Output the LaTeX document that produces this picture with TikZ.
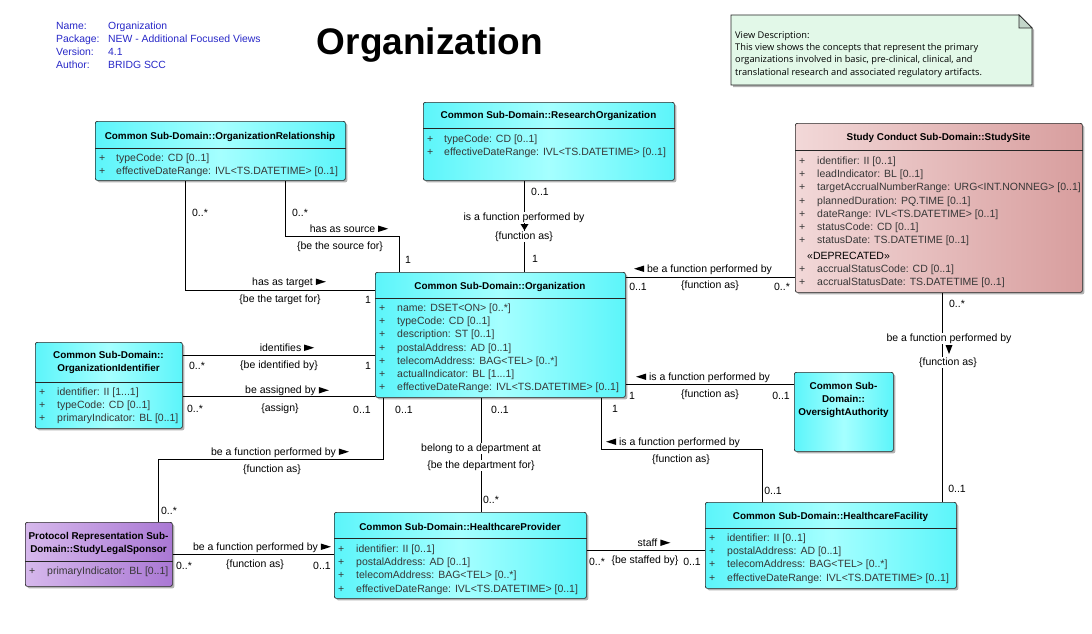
\documentclass[tikz,border=0pt]{standalone}
\usepackage{fontspec}
\setmainfont{Liberation Sans}
\newfontfamily\notefont{Open Sans}
\usetikzlibrary{shadows,calc}
\definecolor{cyanA}{RGB}{92,245,250}
\definecolor{cyanB}{RGB}{165,255,255}
\definecolor{pinkA}{RGB}{242,216,216}
\definecolor{pinkB}{RGB}{216,158,158}
\definecolor{purpA}{RGB}{214,184,236}
\definecolor{purpB}{RGB}{170,120,212}
\definecolor{notefill}{RGB}{226,248,232}
\definecolor{notefold}{RGB}{196,214,202}
\definecolor{infoblue}{RGB}{40,40,200}
\definecolor{attrgray}{RGB}{55,55,55}
\newcommand\lblfont{\fontsize{10.5}{13.1}\selectfont}
\newcommand\hdrfont{\bfseries\fontsize{9.9}{13}\selectfont}
\newcommand\Rtri{\tikz[baseline=0pt]\fill[black] (0pt,0pt)--(0pt,6.5pt)--(10pt,3.25pt)--cycle;}
\newcommand\Ltri{\tikz[baseline=0pt]\fill[black] (10pt,0pt)--(10pt,6.5pt)--(0pt,3.25pt)--cycle;}
\tikzset{
  cls/.style={draw=black!85, line width=0.7pt, rounded corners=2pt, anchor=north west,
    inner sep=0pt, drop shadow={shadow xshift=2pt, shadow yshift=-2pt, fill=black!30, opacity=1}},
  cyanbox/.style={cls, left color=cyanA, right color=cyanA, middle color=cyanB},
  pinkbox/.style={cls, left color=pinkA, right color=pinkB},
  purpbox/.style={cls, left color=purpA, right color=purpB},
  sepline/.style={draw=black!85, line width=0.7pt},
  hdr/.style={font=\hdrfont, inner sep=0pt, align=center},
  attrs/.style={font=\lblfont, text=attrgray, inner sep=0pt, anchor=base west},
  conn/.style={draw=black, line width=0.8pt},
  lbl/.style={font=\lblfont, fill=white, inner sep=0.5pt, text height=8pt, text depth=2pt},
  mult/.style={font=\lblfont, inner sep=0pt, text height=8pt, text depth=2pt},
}
\begin{document}
\begin{tikzpicture}[x=1pt,y=-1pt]
\useasboundingbox (0,0) rectangle (1092,634);
\fill[white] (0,0) rectangle (1092,634);

% title and info
\node[font=\bfseries\fontsize{37}{40}\selectfont, anchor=base, inner sep=0pt] (title) at (430,55) {Organization};
\node[anchor=base west, inner sep=0pt, text=infoblue, font=\fontsize{10.4}{12.9}\selectfont] (info) at (56,29.7)
  {\begin{tabular}[t]{@{}p{52pt}@{}l@{}}Name: & Organization\\ Package: & NEW - Additional Focused Views\\ Version: & 4.1\\ Author: & BRIDG SCC\end{tabular}};

% note
\fill[black!30] (733,17) -- (1021,17) -- (1034,30) -- (1034,87) -- (733,87) -- cycle;
\draw[fill=notefill, draw=black!85, line width=0.7pt] (731,15) -- (1019,15) -- (1032,28) -- (1032,85) -- (731,85) -- cycle;
\draw[fill=notefold, draw=black!85, line width=0.7pt] (1019,15) -- (1019,28) -- (1032,28) -- cycle;
\node[anchor=base west, inner sep=0pt, font=\notefont\fontsize{9.25}{12.3}\selectfont] (notetext) at (735,38.4)
  {\begin{tabular}[t]{@{}l@{}}View Description:\\ This view shows the concepts that represent the primary\\ organizations involved in basic, pre-clinical, clinical, and\\ translational research and associated regulatory artifacts.\end{tabular}};

% class boxes
\node[cyanbox, minimum width=250pt, minimum height=59pt] (orgrel) at (95,121) {};
\node[cyanbox, minimum width=251pt, minimum height=78pt] (research) at (423,102) {};
\node[pinkbox, minimum width=287pt, minimum height=169pt] (studysite) at (795,123) {};
\node[cyanbox, minimum width=250pt, minimum height=125pt] (org) at (375,272) {};
\node[cyanbox, minimum width=147pt, minimum height=86pt] (orgid) at (35,342) {};
\node[purpbox, minimum width=147pt, minimum height=64pt] (sls) at (25,522) {};
\node[cyanbox, minimum width=252pt, minimum height=86pt] (hp) at (334,512) {};
\node[cyanbox, minimum width=251pt, minimum height=86pt] (hf) at (705,502) {};
\node[cyanbox, minimum width=99pt, minimum height=79pt] (oversight) at (794,372) {};

% compartment lines
\draw[sepline] ($(orgrel.north west)+(0,27)$) -- ($(orgrel.north east)+(0,27)$);
\draw[sepline] ($(research.north west)+(0,26)$) -- ($(research.north east)+(0,26)$);
\draw[sepline] ($(studysite.north west)+(0,27)$) -- ($(studysite.north east)+(0,27)$);
\draw[sepline] ($(org.north west)+(0,26)$) -- ($(org.north east)+(0,26)$);
\draw[sepline] ($(orgid.north west)+(0,40)$) -- ($(orgid.north east)+(0,40)$);
\draw[sepline] ($(sls.north west)+(0,39)$) -- ($(sls.north east)+(0,39)$);
\draw[sepline] ($(hp.north west)+(0,26)$) -- ($(hp.north east)+(0,26)$);
\draw[sepline] ($(hf.north west)+(0,26)$) -- ($(hf.north east)+(0,26)$);

% headers
\node[hdr] (orgrelh) at (220,137) {Common Sub-Domain::OrganizationRelationship};
\node[hdr] (researchh) at (548.5,116) {Common Sub-Domain::ResearchOrganization};
\node[hdr] (studysiteh) at (938.5,138) {Study Conduct Sub-Domain::StudySite};
\node[hdr] (orgh) at (500,287) {Common Sub-Domain::Organization};
\node[hdr] (orgidh) at (108.5,362.5) {Common Sub-Domain::\\OrganizationIdentifier};
\node[hdr] (slsh) at (98.5,543.5) {Protocol Representation Sub-\\Domain::StudyLegalSponsor};
\node[hdr] (hph) at (460,527) {Common Sub-Domain::HealthcareProvider};
\node[hdr] (hfh) at (830.5,517) {Common Sub-Domain::HealthcareFacility};
\node[hdr] (oversighth) at (843.5,400) {Common Sub-\\Domain::\\OversightAuthority};

% attributes
\node[attrs] (orgrela) at (99,161.7) {\begin{tabular}[t]{@{}p{17pt}@{}l@{}}+ & typeCode: CD [0..1]\\ + & effectiveDateRange: IVL<TS.DATETIME> [0..1]\end{tabular}};
\node[attrs] (researcha) at (427,142.7) {\begin{tabular}[t]{@{}p{17pt}@{}l@{}}+ & typeCode: CD [0..1]\\ + & effectiveDateRange: IVL<TS.DATETIME> [0..1]\end{tabular}};
\node[attrs] (studysitea) at (799,164.7) {\begin{tabular}[t]{@{}p{18pt}@{}l@{}}+ & identifier: II [0..1]\\ + & leadIndicator: BL [0..1]\\ + & targetAccrualNumberRange: URG<INT.NONNEG> [0..1]\\ + & plannedDuration: PQ.TIME [0..1]\\ + & dateRange: IVL<TS.DATETIME> [0..1]\\ + & statusCode: CD [0..1]\\ + & statusDate: TS.DATETIME [0..1]\end{tabular}};
\node[attrs, text=black] (studysited) at (807,259.7) {«DEPRECATED»};
\node[attrs] (studysiteb) at (799,272) {\begin{tabular}[t]{@{}p{18pt}@{}l@{}}+ & accrualStatusCode: CD [0..1]\\ + & accrualStatusDate: TS.DATETIME [0..1]\end{tabular}};
\node[attrs] (orga) at (379,311.7) {\begin{tabular}[t]{@{}p{18pt}@{}l@{}}+ & name: DSET<ON> [0..*]\\ + & typeCode: CD [0..1]\\ + & description: ST [0..1]\\ + & postalAddress: AD [0..1]\\ + & telecomAddress: BAG<TEL> [0..*]\\ + & actualIndicator: BL [1...1]\\ + & effectiveDateRange: IVL<TS.DATETIME> [0..1]\end{tabular}};
\node[attrs] (orgida) at (39,395.7) {\begin{tabular}[t]{@{}p{18pt}@{}l@{}}+ & identifier: II [1...1]\\ + & typeCode: CD [0..1]\\ + & primaryIndicator: BL [0..1]\end{tabular}};
\node[attrs] (slsa) at (29,574.7) {\begin{tabular}[t]{@{}p{18pt}@{}l@{}}+ & primaryIndicator: BL [0..1]\end{tabular}};
\node[attrs] (hpa) at (338,552.7) {\begin{tabular}[t]{@{}p{18pt}@{}l@{}}+ & identifier: II [0..1]\\ + & postalAddress: AD [0..1]\\ + & telecomAddress: BAG<TEL> [0..*]\\ + & effectiveDateRange: IVL<TS.DATETIME> [0..1]\end{tabular}};
\node[attrs] (hfa) at (709,541.7) {\begin{tabular}[t]{@{}p{18pt}@{}l@{}}+ & identifier: II [0..1]\\ + & postalAddress: AD [0..1]\\ + & telecomAddress: BAG<TEL> [0..*]\\ + & effectiveDateRange: IVL<TS.DATETIME> [0..1]\end{tabular}};

% bend coordinates
\coordinate (c1) at (185,290);
\coordinate (c2a) at (285,236);
\coordinate (c2b) at (399,236);
\coordinate (c3) at (524,226);
\coordinate (c4) at (700,277);
\coordinate (c5) at (942,400);
\coordinate (c6) at (700,384);
\coordinate (c7a) at (601,449);
\coordinate (c7b) at (762,449);
\coordinate (c8) at (481,450);
\coordinate (c9) at (280,355);
\coordinate (c10) at (280,396);
\coordinate (c11a) at (383,459);
\coordinate (c11b) at (158,459);
\coordinate (c12) at (250,554);
\coordinate (c13) at (650,550);

% connectors
\draw[conn] (orgrel.south -| c1) |- (org.west |- c1);
\draw[conn] (orgrel.south -| c2a) |- (c2b) -- (org.north -| c2b);
\draw[conn] (research.south -| c3) -- (org.north -| c3);
\draw[conn] (org.east |- c4) -- (studysite.west |- c4);
\draw[conn] (studysite.south -| c5) -- (hf.north -| c5);
\draw[conn] (org.east |- c6) -- (oversight.west |- c6);
\draw[conn] (org.south -| c7a) |- (c7b) -- (hf.north -| c7b);
\draw[conn] (org.south -| c8) -- (hp.north -| c8);
\draw[conn] (orgid.east |- c9) -- (org.west |- c9);
\draw[conn] (orgid.east |- c10) -- (org.west |- c10);
\draw[conn] (org.south -| c11a) |- (c11b) -- (sls.north -| c11b);
\draw[conn] (sls.east |- c12) -- (hp.west |- c12);
\draw[conn] (hp.east |- c13) -- (hf.west |- c13);

% labels C1
\node[mult] (m1a) at (200,213) {0..*};
\node[lbl] (l1a) at (289,282) {has as target \Rtri};
\node[lbl] (l1b) at (280,299) {\{be the target for\}};
\node[mult] (m1b) at (368,300) {1};
% C2
\node[mult] (m2a) at (300,213) {0..*};
\node[lbl] (l2a) at (349,229) {has as source \Rtri};
\node[lbl] (l2b) at (340,246) {\{be the source for\}};
\node[mult] (m2b) at (408,260) {1};
% C3
\node[mult] (m3a) at (540,192) {0..1};
\node[lbl] (l3a) at (524,217.5) {is a function performed by};
\node[lbl] (l3b) at (524,236.5) {\{function as\}};
\node[mult] (m3b) at (535,259) {1};
% C4
\node[lbl] (l4a) at (703,269) {\Ltri\ be a function performed by};
\node[lbl] (l4b) at (710,285) {\{function as\}};
\node[mult] (m4a) at (638,287) {0..1};
\node[mult] (m4b) at (782,287) {0..*};
% C5
\node[mult] (m5a) at (957,304) {0..*};
\node[lbl] (l5a) at (949,338.5) {be a function performed by};
\node[lbl] (l5b) at (948,362.5) {\{function as\}};
\node[mult] (m5b) at (957,489) {0..1};
% C6
\node[lbl] (l6a) at (703,377) {\Ltri\ is a function performed by};
\node[lbl] (l6b) at (710,394) {\{function as\}};
\node[mult] (m6a) at (632,396) {1};
\node[mult] (m6b) at (781,396) {0..1};
% C7
\node[mult] (m7a) at (615,409) {1};
\node[lbl] (l7a) at (673,442) {\Ltri\ is a function performed by};
\node[lbl] (l7b) at (681,459) {\{function as\}};
\node[mult] (m7b) at (773,491) {0..1};
% C8
\node[mult] (m8a) at (500,410) {0..1};
\node[lbl] (l8a) at (481,448) {belong to a department at};
\node[lbl] (l8b) at (481,465) {\{be the department for\}};
\node[mult] (m8b) at (491,500) {0..*};
% C9
\node[lbl] (l9a) at (287,348) {identifies \Rtri};
\node[lbl] (l9b) at (279,365) {\{be identified by\}};
\node[mult] (m9a) at (197,366) {0..*};
\node[mult] (m9b) at (368,366) {1};
% C10
\node[lbl] (l10a) at (287,390.5) {be assigned by \Rtri};
\node[lbl] (l10b) at (280,408) {\{assign\}};
\node[mult] (m10a) at (195,409) {0..*};
\node[mult] (m10b) at (362,410) {0..1};
% C11
\node[mult] (m11a) at (404,410) {0..1};
\node[lbl] (l11a) at (280,452) {be a function performed by \Rtri};
\node[lbl] (l11b) at (272,469) {\{function as\}};
\node[mult] (m11b) at (169,511) {0..*};
% C12
\node[lbl] (l12a) at (262,547) {be a function performed by \Rtri};
\node[lbl] (l12b) at (255,564) {\{function as\}};
\node[mult] (m12a) at (184,566) {0..*};
\node[mult] (m12b) at (322,566) {0..1};
% C13
\node[lbl] (l13a) at (654,543) {staff \Rtri};
\node[lbl] (l13b) at (645,560) {\{be staffed by\}};
\node[mult] (m13a) at (597,562) {0..*};
\node[mult] (m13b) at (692,562) {0..1};

% direction marks on vertical connectors (drawn after labels so they stay visible)
\fill[black] (520.5,224) -- (528.5,224) -- (524.5,230.5) -- cycle;
\fill[black] (945.5,345) -- (952.5,345) -- (949,354) -- cycle;
\end{tikzpicture}
\end{document}
